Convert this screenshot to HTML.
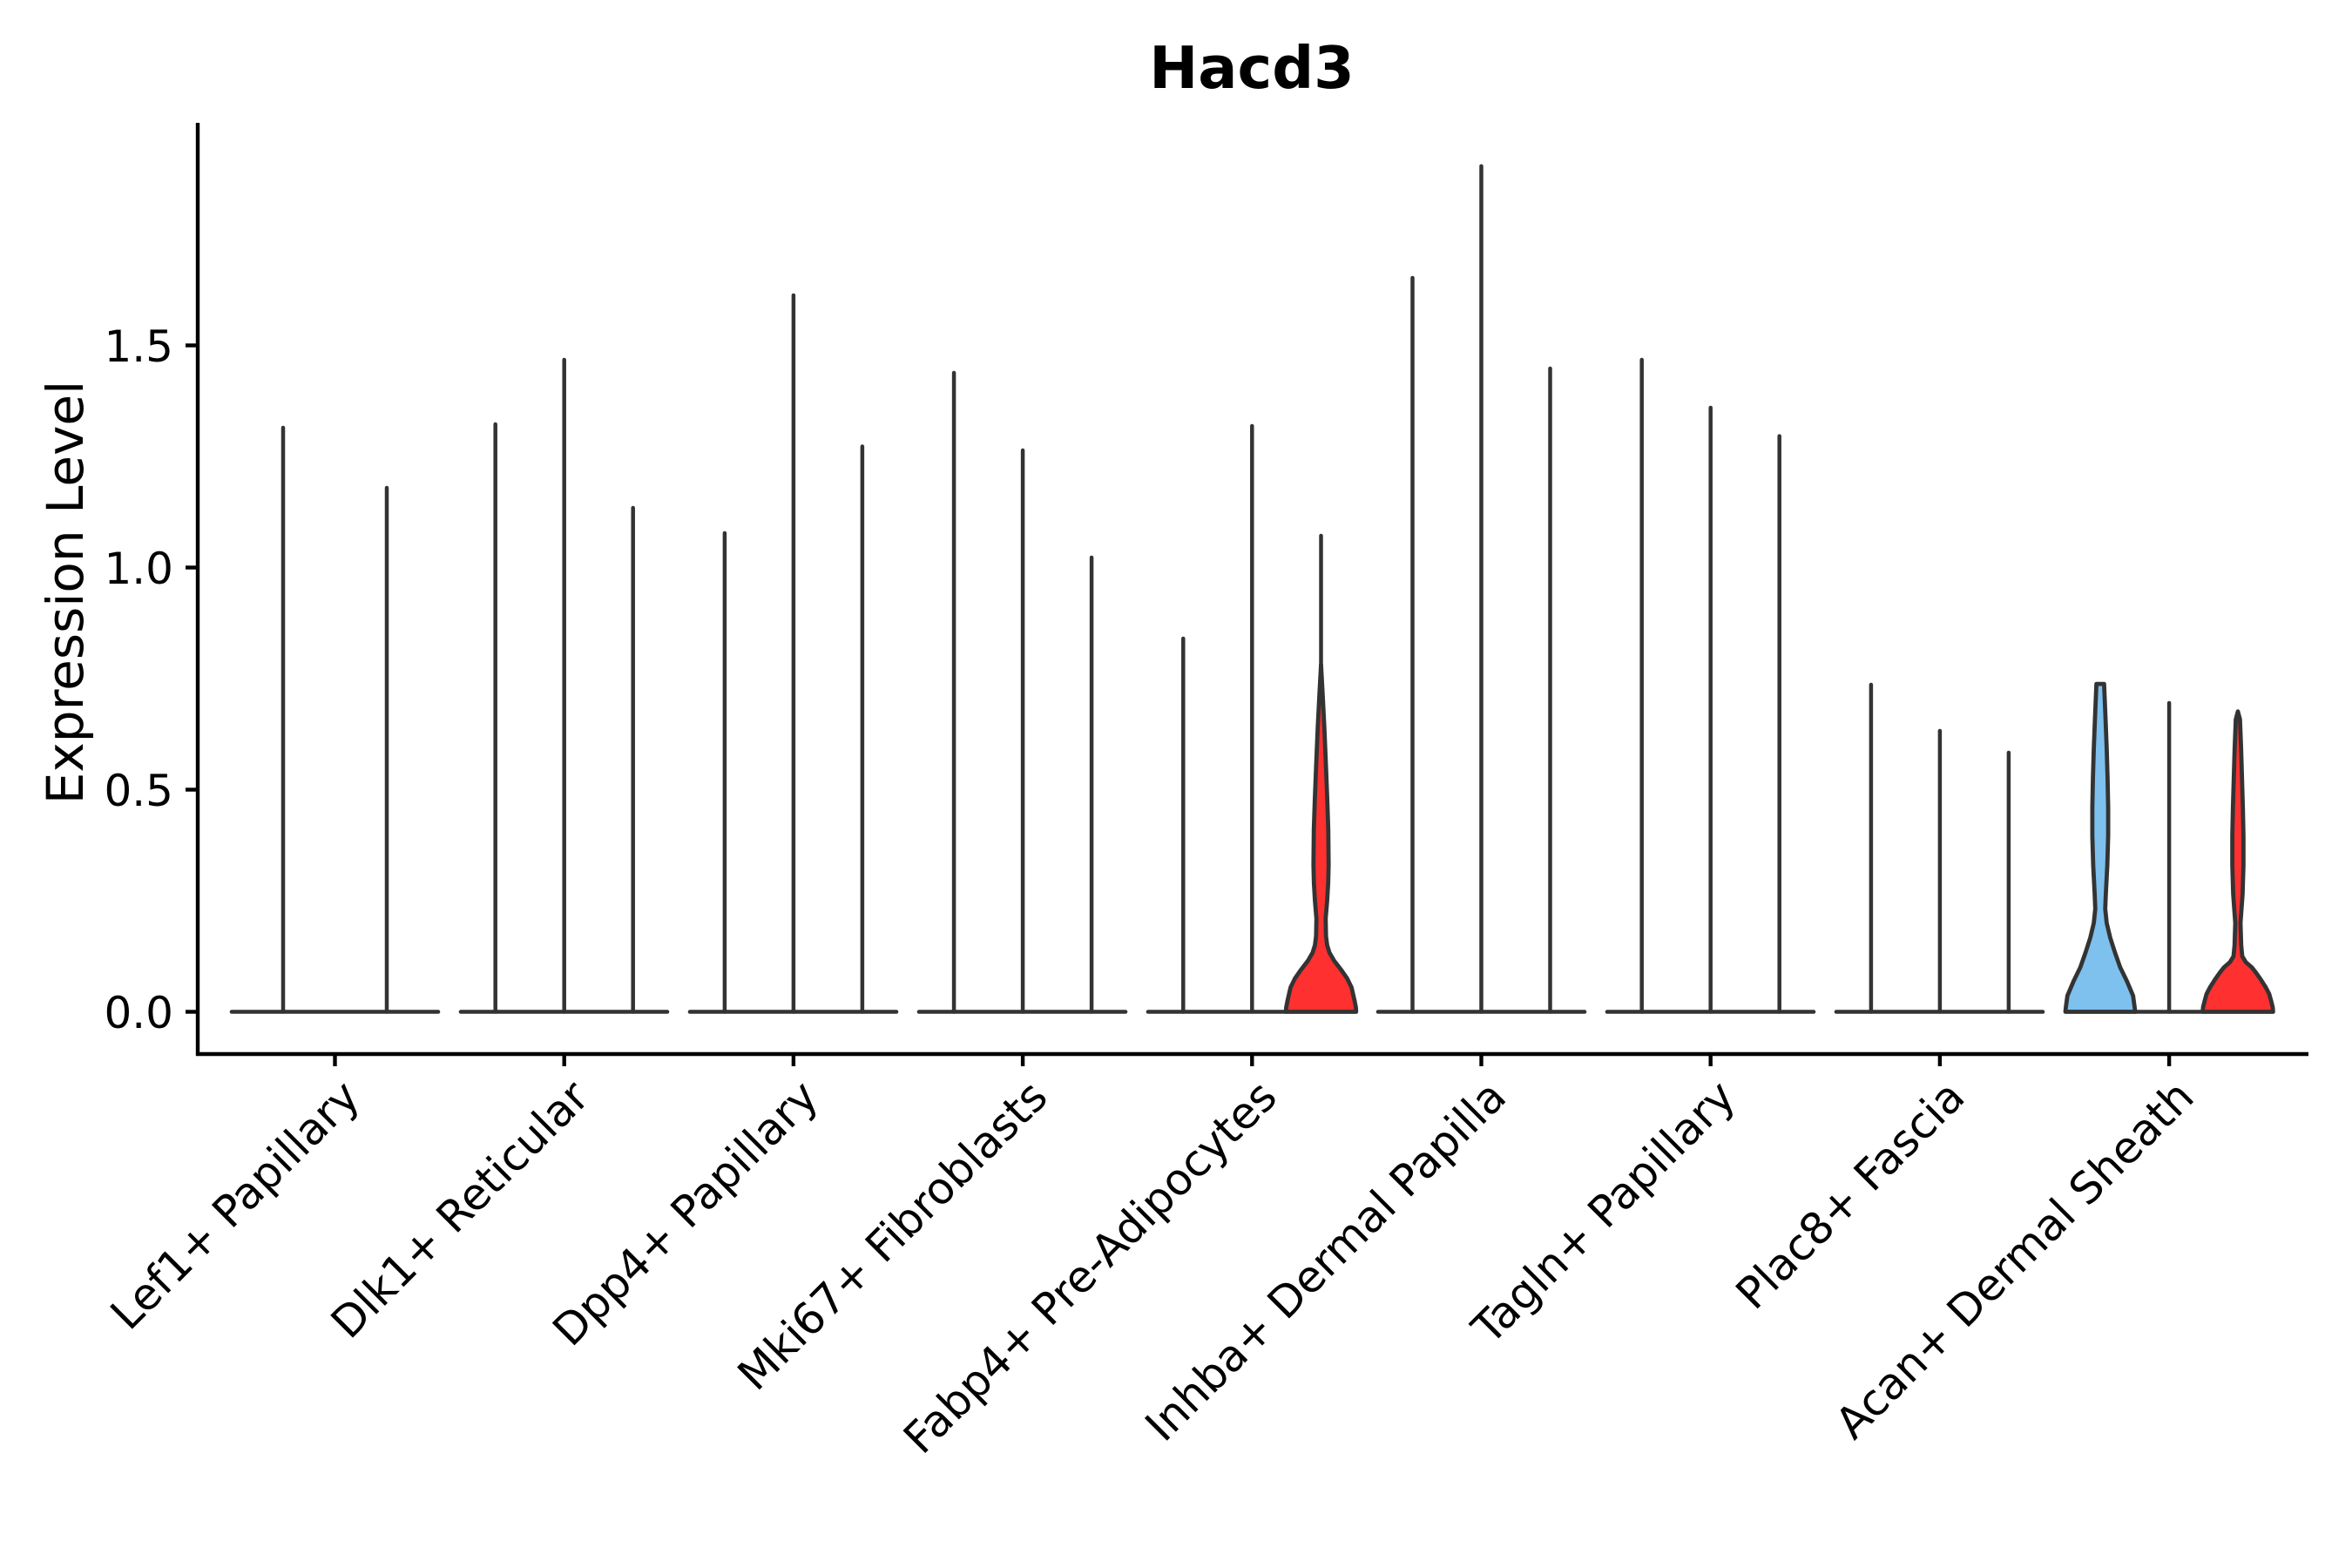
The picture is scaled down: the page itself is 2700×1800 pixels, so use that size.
<!DOCTYPE html>
<html>
<head>
<meta charset="utf-8">
<style>
  html, body { margin: 0; padding: 0; background: #ffffff; }
  body { width: 2700px; height: 1800px; overflow: hidden; }
  svg { display: block; }
  text { font-family: "DejaVu Sans", "Liberation Sans", sans-serif; fill: #000; }
</style>
</head>
<body>
<svg width="2700" height="1800" viewBox="0 0 2700 1800" xmlns="http://www.w3.org/2000/svg">
  <rect x="0" y="0" width="2700" height="1800" fill="#ffffff"/>

  <!-- Title -->
  <text x="1437" y="101" font-size="67" font-weight="bold" text-anchor="middle">Hacd3</text>

  <!-- Flat violins: baselines -->
  <g stroke="#333333" stroke-width="4.6" stroke-linecap="round" fill="none">
    <line x1="266" y1="1161.5" x2="503" y2="1161.5"/>
    <line x1="529" y1="1161.5" x2="766" y2="1161.5"/>
    <line x1="792" y1="1161.5" x2="1029" y2="1161.5"/>
    <line x1="1055" y1="1161.5" x2="1292" y2="1161.5"/>
    <line x1="1318" y1="1161.5" x2="1476" y2="1161.5"/>
    <line x1="1582" y1="1161.5" x2="1819" y2="1161.5"/>
    <line x1="1845" y1="1161.5" x2="2082" y2="1161.5"/>
    <line x1="2108" y1="1161.5" x2="2345" y2="1161.5"/>
    <line x1="2451" y1="1161.5" x2="2529" y2="1161.5"/>
  </g>

  <!-- Flat violins: spikes -->
  <g stroke="#333333" stroke-width="4.5" stroke-linecap="round" fill="none">
    <line x1="325" y1="1161.5" x2="325" y2="491"/>
    <line x1="444" y1="1161.5" x2="444" y2="560"/>
    <line x1="568.7" y1="1161.5" x2="568.7" y2="487"/>
    <line x1="647.7" y1="1161.5" x2="647.7" y2="413"/>
    <line x1="726.7" y1="1161.5" x2="726.7" y2="583"/>
    <line x1="831.9" y1="1161.5" x2="831.9" y2="612"/>
    <line x1="910.9" y1="1161.5" x2="910.9" y2="339"/>
    <line x1="989.9" y1="1161.5" x2="989.9" y2="512.5"/>
    <line x1="1095.1" y1="1161.5" x2="1095.1" y2="428"/>
    <line x1="1174.1" y1="1161.5" x2="1174.1" y2="517"/>
    <line x1="1253.1" y1="1161.5" x2="1253.1" y2="640"/>
    <line x1="1358.3" y1="1161.5" x2="1358.3" y2="733"/>
    <line x1="1437.3" y1="1161.5" x2="1437.3" y2="489"/>
    <line x1="1621.5" y1="1161.5" x2="1621.5" y2="319"/>
    <line x1="1700.5" y1="1161.5" x2="1700.5" y2="190.7"/>
    <line x1="1779.5" y1="1161.5" x2="1779.5" y2="423"/>
    <line x1="1884.7" y1="1161.5" x2="1884.7" y2="413"/>
    <line x1="1963.7" y1="1161.5" x2="1963.7" y2="468"/>
    <line x1="2042.7" y1="1161.5" x2="2042.7" y2="500.6"/>
    <line x1="2147.9" y1="1161.5" x2="2147.9" y2="786"/>
    <line x1="2226.9" y1="1161.5" x2="2226.9" y2="839"/>
    <line x1="2305.9" y1="1161.5" x2="2305.9" y2="864"/>
    <line x1="2490.1" y1="1161.5" x2="2490.1" y2="807"/>
    <line x1="1516.5" y1="770" x2="1516.5" y2="615"/>
  </g>

  <!-- Red violin (Fabp4+ group 3) -->
  <polygon fill="#FF3030" stroke="#333333" stroke-width="4.8" stroke-linejoin="round"
    points="1556.8,1161.5 1556.5,1156.4 1555,1148.75 1551.5,1133.5 1546.5,1123.25 1539.8,1113.6 1531.5,1102.85 1526.2,1093.7 1523.5,1085 1522.2,1074.8 1521.8,1054.4 1523.5,1034 1524.7,1013.6 1525.2,993.2 1524.8,952.4 1523.6,916.7 1522,875.9 1520.3,835.1 1518.2,794.3 1516.5,763 1514.8,794.3 1512.7,835.1 1511,875.9 1509.4,916.7 1508.2,952.4 1507.8,993.2 1508.3,1013.6 1509.5,1034 1511.2,1054.4 1510.8,1074.8 1509.5,1085 1506.8,1093.7 1501.5,1102.85 1493.2,1113.6 1486.5,1123.25 1481.5,1133.5 1478,1148.75 1476.5,1156.4 1476.2,1161.5"/>

  <!-- Blue violin (Acan+ group 1) -->
  <polygon fill="#7EC0EE" stroke="#333333" stroke-width="4.8" stroke-linejoin="round"
    points="2451,1161.5 2450.5,1156.4 2448.7,1143.1 2441.6,1126.3 2433.9,1110.5 2427.8,1093.2 2422.4,1076.3 2418.4,1059.5 2416.7,1043.2 2417.4,1026.4 2419.1,993.2 2420.1,959.5 2420.1,926.9 2419.4,892.7 2418.4,859.1 2417.1,825.9 2415.7,792.3 2415.4,785.1 2406.6,785.1 2406.3,792.3 2404.9,825.9 2403.6,859.1 2402.6,892.7 2401.9,926.9 2401.9,959.5 2402.9,993.2 2404.6,1026.4 2405.3,1043.2 2403.6,1059.5 2399.6,1076.3 2394.2,1093.2 2388.1,1110.5 2380.4,1126.3 2373.3,1143.1 2371.5,1156.4 2371,1161.5"/>

  <!-- Red violin (Acan+ group 3) -->
  <polygon fill="#FF3030" stroke="#333333" stroke-width="4.8" stroke-linejoin="round"
    points="2609.4,1161.5 2609,1156.4 2607.5,1150.3 2605,1141.1 2600.7,1132.9 2595.5,1124.8 2589.8,1116.6 2585,1110.5 2578,1104.4 2574,1097.75 2572.8,1085 2572,1059.5 2574.4,1026.4 2575.4,993.2 2575.4,959.5 2574.7,926.9 2573.7,892.7 2572.7,859.1 2571.4,825.9 2569,816.7 2566.6,825.9 2565.3,859.1 2564.3,892.7 2563.3,926.9 2562.6,959.5 2562.6,993.2 2563.6,1026.4 2566,1059.5 2565.2,1085 2564,1097.75 2560,1104.4 2553,1110.5 2548.2,1116.6 2542.5,1124.8 2537.3,1132.9 2533,1141.1 2530.5,1150.3 2529,1156.4 2528.6,1161.5"/>

  <!-- Axes -->
  <g stroke="#000000" stroke-width="4.4" fill="none">
    <line x1="227" y1="141" x2="227" y2="1212"/>
    <line x1="225" y1="1210" x2="2650" y2="1210"/>
    <line x1="213" y1="1161.5" x2="227" y2="1161.5"/>
    <line x1="213" y1="906.5" x2="227" y2="906.5"/>
    <line x1="213" y1="651.5" x2="227" y2="651.5"/>
    <line x1="213" y1="396.5" x2="227" y2="396.5"/>
    <line x1="384.5" y1="1210" x2="384.5" y2="1224"/>
    <line x1="647.7" y1="1210" x2="647.7" y2="1224"/>
    <line x1="910.9" y1="1210" x2="910.9" y2="1224"/>
    <line x1="1174.1" y1="1210" x2="1174.1" y2="1224"/>
    <line x1="1437.3" y1="1210" x2="1437.3" y2="1224"/>
    <line x1="1700.5" y1="1210" x2="1700.5" y2="1224"/>
    <line x1="1963.7" y1="1210" x2="1963.7" y2="1224"/>
    <line x1="2226.9" y1="1210" x2="2226.9" y2="1224"/>
    <line x1="2490.1" y1="1210" x2="2490.1" y2="1224"/>
  </g>

  <!-- Y tick labels -->
  <g font-size="50" text-anchor="end">
    <text x="199" y="1180">0.0</text>
    <text x="199" y="925">0.5</text>
    <text x="199" y="670">1.0</text>
    <text x="199" y="415">1.5</text>
  </g>

  <!-- Y axis title -->
  <text transform="translate(95,680) rotate(-90)" font-size="58" text-anchor="middle">Expression Level</text>

  <!-- X tick labels -->
  <g font-size="50" text-anchor="end">
    <text transform="translate(415.5,1262) rotate(-45)">Lef1+ Papillary</text>
    <text transform="translate(678.7,1262) rotate(-45)">Dlk1+ Reticular</text>
    <text transform="translate(941.9,1262) rotate(-45)">Dpp4+ Papillary</text>
    <text transform="translate(1205.1,1262) rotate(-45)">Mki67+ Fibroblasts</text>
    <text transform="translate(1468.3,1262) rotate(-45)">Fabp4+ Pre-Adipocytes</text>
    <text transform="translate(1731.5,1262) rotate(-45)">Inhba+ Dermal Papilla</text>
    <text transform="translate(1994.7,1262) rotate(-45)">Tagln+ Papillary</text>
    <text transform="translate(2257.9,1262) rotate(-45)">Plac8+ Fascia</text>
    <text transform="translate(2521.1,1262) rotate(-45)">Acan+ Dermal Sheath</text>
  </g>
</svg>
</body>
</html>
